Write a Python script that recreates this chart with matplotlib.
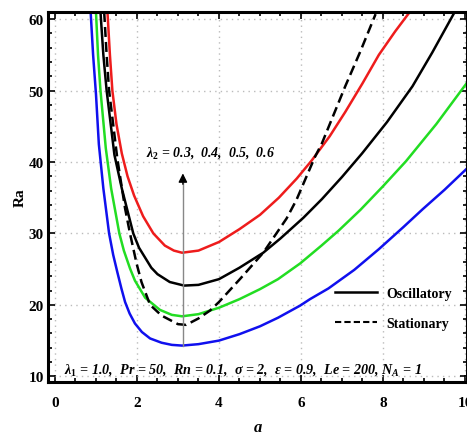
import matplotlib
matplotlib.use('Agg')
import matplotlib.pyplot as plt

plt.rcParams['font.family'] = ['Liberation Serif', 'DejaVu Serif']
plt.rcParams['font.weight'] = 'bold'
plt.rcParams['mathtext.fontset'] = 'custom'
plt.rcParams['mathtext.rm'] = 'Liberation Serif:bold'
plt.rcParams['mathtext.it'] = 'Liberation Serif:italic:bold'
plt.rcParams['mathtext.bf'] = 'Liberation Serif:bold'

# oscillatory curves, lambda_2 = 0.3, 0.4, 0.5, 0.6
a_03 = [0.87, 0.93, 1.0, 1.07, 1.18, 1.32, 1.42, 1.52, 1.62, 1.71, 1.82, 1.95, 2.12, 2.32, 2.6, 2.85,
        3.1, 3.5, 4.0, 4.5, 5.0, 5.44, 5.98, 6.22, 6.67, 7.3, 7.9, 8.5, 8.97, 9.5, 10.05]
ra_03 = [61, 55.0, 49.5, 42.5, 36.3, 30.0, 27.0, 24.6, 22.3, 20.4, 18.8, 17.4, 16.2, 15.3, 14.7, 14.4,
         14.3, 14.5, 15.0, 15.9, 17.0, 18.2, 19.9, 20.8, 22.3, 24.9, 27.8, 30.9, 33.4, 36.1, 39.1]

a_04 = [1.0, 1.05, 1.11, 1.24, 1.37, 1.57, 1.68, 1.83, 1.95, 2.2, 2.56, 2.85, 3.1, 3.5, 4.0, 4.5,
        5.0, 5.44, 5.98, 6.5, 6.92, 7.45, 8.0, 8.56, 9.3, 10.05]
ra_04 = [61, 55.0, 50.0, 41.9, 36.3, 30.0, 27.6, 25.1, 23.4, 21.0, 19.3, 18.6, 18.4, 18.7, 19.6, 20.8,
         22.2, 23.6, 25.8, 28.3, 30.4, 33.3, 36.6, 40.1, 45.3, 51.1]

a_05 = [1.11, 1.18, 1.26, 1.45, 1.63, 1.91, 2.05, 2.35, 2.5, 2.8, 3.15, 3.5, 4.0, 4.5, 5.08, 5.5,
        6.06, 6.51, 7.0, 7.49, 8.1, 8.72, 9.2, 9.74]
ra_05 = [61, 55.0, 50, 41.0, 36.3, 30.0, 28.0, 25.2, 24.3, 23.2, 22.7, 22.8, 23.6, 25.2, 27.3, 29.3,
         32.2, 34.8, 37.9, 41.2, 45.6, 50.6, 55.3, 60.9]

a_06 = [1.28, 1.34, 1.40, 1.50, 1.63, 1.77, 1.93, 2.15, 2.40, 2.68, 2.9, 3.1, 3.5, 4.0, 4.5, 5.0,
        5.46, 5.9, 6.26, 6.7, 7.08, 7.5, 7.9, 8.3, 8.68]
ra_06 = [61, 55.0, 50, 45.3, 41.2, 38.0, 35.3, 32.4, 30.0, 28.3, 27.6, 27.3, 27.6, 28.8, 30.6, 32.6,
         35.0, 37.7, 40.2, 43.6, 47.0, 51.0, 55.0, 58.3, 61.2]

# stationary curve
a_st = [1.2, 1.26, 1.32, 1.52, 1.71, 1.83, 1.91, 1.99, 2.11, 2.32, 2.6, 3.0, 3.2, 3.5, 3.78, 4.0,
        4.51, 5.08, 5.65, 5.89, 6.34, 6.51, 7.08, 7.45, 7.82]
ra_st = [61, 55.0, 50, 40.5, 33.5, 30.0, 27.9, 25.8, 23.2, 20.0, 18.5, 17.3, 17.2, 18.1, 19.2, 20.4,
         23.6, 27.3, 32.1, 34.7, 40.7, 42.6, 50.6, 55.5, 60.7]

fig = plt.figure(figsize=(4.67, 4.35), dpi=100)
ax = fig.add_axes([0.1028, 0.1195, 0.8972, 0.8506])

ax.plot(a_03, ra_03, color='#1010ee', lw=1.8)
ax.plot(a_04, ra_04, color='#22dd22', lw=1.8)
ax.plot(a_05, ra_05, color='black', lw=1.8)
ax.plot(a_06, ra_06, color='#ee1c1c', lw=1.8)
ax.plot(a_st, ra_st, color='black', lw=1.8, ls=(0, (4, 2)))

# legend
ax.plot([], [], color='black', lw=1.8, label='Oscillatory')
ax.plot([], [], color='black', lw=1.5, ls=(0, (3, 1.5)), label='Stationary')
handles, labels = ax.get_legend_handles_labels()
ax.legend(handles, labels, loc='upper left', bbox_to_anchor=(0.655, 0.29), frameon=False,
          handlelength=3.0, handletextpad=0.7, labelspacing=1.2,
          prop={'family': 'Liberation Serif', 'weight': 'bold', 'size': 10})

# arrow for increasing lambda_2
ax.plot([3.12, 3.12], [14.3, 37.0], color='#888888', lw=1.0)
ax.annotate('', xy=(3.12, 38.8), xytext=(3.12, 36.5),
            arrowprops=dict(arrowstyle='-|>', color='black', lw=1.0, mutation_scale=13))
ax.text(2.22, 41.4, r'$\lambda_2$ = 0.3,  0.4,  0.5,  0.6', ha='left', va='center',
        fontsize=10, style='italic', weight='bold')

ax.text(0.22, 11.0, r'$\lambda_1$ = 1.0,  Pr = 50,  Rn = 0.1,  $\sigma$ = 2,  $\epsilon$ = 0.9,  Le = 200, $N_A$ = 1',
        ha='left', va='center', fontsize=10.2, style='italic', weight='bold')

ax.set_xlim(-0.17, 10.05)
ax.set_ylim(9.2, 61.0)
ax.set_xticks([0, 2, 4, 6, 8, 10])
ax.set_yticks([10, 20, 30, 40, 50, 60])
ax.set_xticks([i * 0.5 for i in range(0, 21)], minor=True)
ax.set_yticks(list(range(10, 61, 2)), minor=True)
ax.tick_params(which='both', direction='in', top=True, right=True, labelsize=11, width=1.2)
ax.tick_params(which='major', length=5)
ax.tick_params(which='minor', length=3)
ax.tick_params(axis='x', which='major', pad=10)
ax.tick_params(axis='y', which='major', pad=3)
for lab in ax.get_xticklabels() + ax.get_yticklabels():
    lab.set_fontweight('bold')
for sp in ax.spines.values():
    sp.set_linewidth(2.2)

ax.grid(True, which='major', color='#bbbbbb', ls=(0, (1, 3)), lw=1.0)

ax.set_xlabel('a', fontsize=12, style='italic', weight='bold', labelpad=7)
ax.set_ylabel('Ra', fontsize=11, weight='bold', labelpad=1)

plt.savefig('out.png', dpi=100)
